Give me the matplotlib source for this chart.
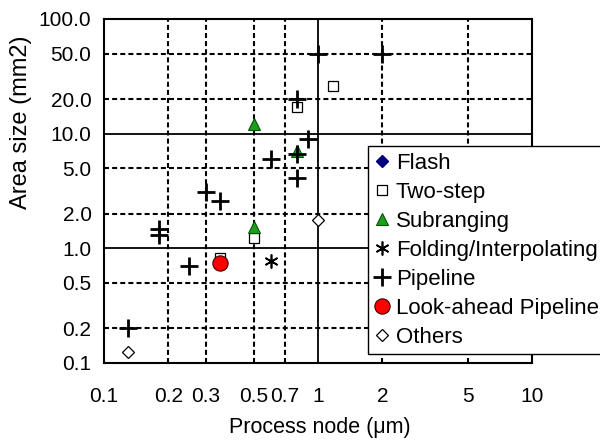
import matplotlib
matplotlib.use("Agg")
import matplotlib.pyplot as plt
from matplotlib.ticker import FixedLocator, NullLocator, FixedFormatter

plt.rcParams['font.family'] = ['Liberation Sans', 'DejaVu Sans']

# Data (process node in um, area in mm2)
flash_x, flash_y = [], []
twostep_x = [1.18, 0.8, 0.5, 0.35]
twostep_y = [26, 17, 1.22, 0.82]
subr_x = [0.5, 0.8, 0.5]
subr_y = [12.2, 7.0, 1.55]
fold_x = [0.6]
fold_y = [0.78]
pipe_x = [1.0, 2.0, 0.8, 0.9, 0.8, 0.6, 0.8, 0.3, 0.35, 0.18, 0.18, 0.25, 0.13]
pipe_y = [50, 50, 20, 9, 6.6, 6, 4.1, 3.1, 2.6, 1.47, 1.3, 0.7, 0.2]
look_x = [0.35]
look_y = [0.74]
oth_x = [1.0, 0.13]
oth_y = [1.75, 0.125]

xticks = [0.1, 0.2, 0.3, 0.5, 0.7, 1, 2, 5, 10]
xticklabels = ['0.1', '0.2', '0.3', '0.5', '0.7', '1', '2', '5', '10']
yticks = [0.1, 0.2, 0.5, 1, 2, 5, 10, 20, 50, 100]
yticklabels = ['0.1', '0.2', '0.5', '1.0', '2.0', '5.0', '10.0', '20.0', '50.0', '100.0']
x_solid = [1]
x_dashed = [0.2, 0.3, 0.5, 0.7, 2, 5]
y_solid = [1, 10]
y_dashed = [0.2, 0.5, 2, 5, 20, 50]

fig = plt.figure(figsize=(6, 4.4), dpi=100)
ax = fig.add_axes([104/600, 1-363/440, 428/600, 344/440])
ax.set_xscale('log')
ax.set_yscale('log')
ax.set_xlim(0.1, 10)
ax.set_ylim(0.1, 100)

dash = (0, (2.4, 1.5))
for v in x_dashed:
    ax.axvline(v, color='black', lw=1.5, linestyle=dash, zorder=1)
for v in y_dashed:
    ax.axhline(v, color='black', lw=1.5, linestyle=dash, zorder=1)
for v in x_solid:
    ax.axvline(v, color='black', lw=1.3, zorder=1)
for v in y_solid:
    ax.axhline(v, color='black', lw=1.3, zorder=1)

ax.plot(flash_x, flash_y, linestyle='none', marker='D', ms=6, mfc='#000080', mec='#000080', label='Flash', zorder=3)
ax.plot(twostep_x, twostep_y, linestyle='none', marker='s', ms=7, mfc='white', mec='black', mew=0.9, label='Two-step', zorder=3)
ax.plot(subr_x, subr_y, linestyle='none', marker='^', ms=9, mfc='#1aa01a', mec='#0a500a', mew=0.8, label='Subranging', zorder=3)
ax.plot(fold_x, fold_y, linestyle='none', marker=(6, 2, 0), ms=10, mec='black', mew=1.2, label='Folding/Interpolating', zorder=3)
ax.plot(pipe_x, pipe_y, linestyle='none', marker='+', ms=13, mec='black', mew=2.0, label='Pipeline', zorder=3)
ax.plot(look_x, look_y, linestyle='none', marker='o', ms=11, mfc='#ff0000', mec='#400000', mew=0.8, label='Look-ahead Pipeline', zorder=4)
ax.plot(oth_x, oth_y, linestyle='none', marker='D', ms=6, mfc='white', mec='black', mew=0.9, label='Others', zorder=3)

ax.xaxis.set_major_locator(FixedLocator(xticks))
ax.xaxis.set_major_formatter(FixedFormatter(xticklabels))
ax.xaxis.set_minor_locator(NullLocator())
ax.yaxis.set_major_locator(FixedLocator(yticks))
ax.yaxis.set_major_formatter(FixedFormatter(yticklabels))
ax.yaxis.set_minor_locator(NullLocator())
ax.tick_params(axis='x', length=0, pad=17, labelsize=15)
ax.tick_params(axis='y', length=0, pad=9, labelsize=15)
for s in ax.spines.values():
    s.set_linewidth(1.5)
    s.set_color('black')

fig.text(320/600, 1-427/440, 'Process node (\u03bcm)', ha='center', va='center', fontsize=15.5)
fig.text(21/600, 1-122/440, 'Area size (mm2)', ha='center', va='center', rotation=90, fontsize=17)

leg = ax.legend(loc='upper left', bbox_to_anchor=(368/600, 1-146/440), bbox_transform=fig.transFigure,
                fontsize=16, frameon=True, fancybox=False, framealpha=1, edgecolor='black',
                handlelength=0.7, handletextpad=0.25, borderpad=0.3, labelspacing=0.36,
                borderaxespad=0, numpoints=1)
leg.get_frame().set_linewidth(1.0)
leg.set_zorder(10)

fig.savefig('out.png', dpi=100)
